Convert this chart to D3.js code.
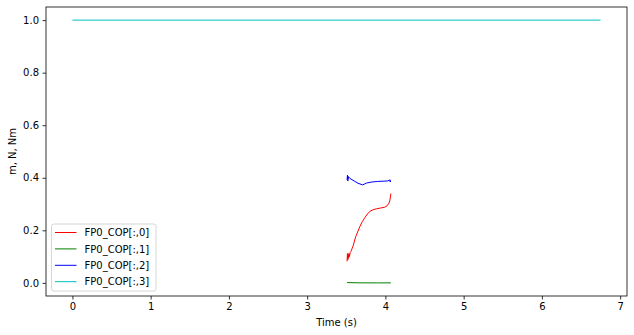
<!DOCTYPE html>
<html>
<head>
<meta charset="utf-8">
<script src="https://cdn.jsdelivr.net/npm/d3@7/dist/d3.min.js"></script>
<style>
  html, body { margin: 0; padding: 0; background: #fff; }
  svg { display: block; font-family: "DejaVu Sans", sans-serif; }
</style>
</head>
<body>
<svg id="chart" width="634" height="335"></svg>
<script>
// ---- data ----
const seriesNames = ["FP0_COP[:,0]", "FP0_COP[:,1]", "FP0_COP[:,2]", "FP0_COP[:,3]"];
const seriesColors = ["#ff0000", "#008000", "#0000ff", "#00bfbf"];

const cop0X = [3.51, 3.515, 3.52, 3.525, 3.53, 3.535, 3.54, 3.55, 3.56, 3.584, 3.62, 3.673, 3.705, 3.737, 3.77, 3.801, 3.84, 3.886, 3.94, 3.992, 4.02, 4.047, 4.058, 4.065, 4.07];
const cop0Y = [0.082, 0.112, 0.088, 0.108, 0.095, 0.112, 0.100, 0.115, 0.120, 0.138, 0.175, 0.214, 0.233, 0.248, 0.262, 0.272, 0.278, 0.282, 0.285, 0.288, 0.293, 0.304, 0.315, 0.330, 0.340];

const cop1X = [3.51, 3.70, 3.90, 4.07];
const cop1Y = [0.001, 0.000, 0.000, 0.000];

const cop2X = [3.51, 3.515, 3.52, 3.525, 3.53, 3.54, 3.56, 3.60, 3.65, 3.71, 3.76, 3.83, 3.90, 3.97, 4.03, 4.06, 4.062, 4.065];
const cop2Y = [0.392, 0.410, 0.388, 0.405, 0.398, 0.400, 0.395, 0.388, 0.379, 0.373, 0.380, 0.384, 0.386, 0.387, 0.388, 0.392, 0.384, 0.389];

const cop3X = [0, 6.75];
const cop3Y = [1.0, 1.0];

const xTicks = [0, 1, 2, 3, 4, 5, 6, 7];
const yTicks = [0.0, 0.2, 0.4, 0.6, 0.8, 1.0];
const xLabel = "Time (s)";
const yLabel = "m, N, Nm";

const seriesX = [cop0X, cop1X, cop2X, cop3X];
const seriesY = [cop0Y, cop1Y, cop2Y, cop3Y];

// ---- layout ----
const svg = d3.select("#chart");
const pL = 46, pR = 627, pT = 7, pB = 296;

const x = d3.scaleLinear().domain([-0.3375, 7.0875]).range([pL, pR]);
const y = d3.scaleLinear().domain([-0.05, 1.05]).range([pB, pT]);

svg.append("rect").attr("x", 0).attr("y", 0).attr("width", 634).attr("height", 335).attr("fill", "#fff");

// lines
const line = d3.line().x(d => x(d[0])).y(d => y(d[1]));
const plot = svg.append("g");
[0, 1, 2, 3].forEach(i => {
  const pts = seriesX[i].map((v, j) => [v, seriesY[i][j]]);
  plot.append("path")
    .attr("d", line(pts))
    .attr("fill", "none")
    .attr("stroke", seriesColors[i])
    .attr("stroke-width", 1)
    .attr("stroke-linejoin", "round");
});

// axes
const xAxis = d3.axisBottom(x).tickValues(xTicks).tickFormat(d3.format("d")).tickSizeOuter(0).tickSize(3.5).tickPadding(3.5);
const yAxis = d3.axisLeft(y).tickValues(yTicks).tickFormat(d3.format(".1f")).tickSizeOuter(0).tickSize(3.5).tickPadding(3.5);

const gx = svg.append("g").attr("transform", `translate(0,${pB})`).call(xAxis);
const gy = svg.append("g").attr("transform", `translate(${pL},0)`).call(yAxis);
[gx, gy].forEach(g => {
  g.select(".domain").remove();
  g.selectAll("text").attr("font-size", 10).attr("fill", "#000").attr("font-family", "DejaVu Sans");
  g.selectAll("line").attr("stroke", "#000").attr("stroke-width", 0.8);
});

// frame
svg.append("rect")
  .attr("x", pL).attr("y", pT)
  .attr("width", pR - pL).attr("height", pB - pT)
  .attr("fill", "none").attr("stroke", "#000").attr("stroke-width", 0.8);

// axis labels
svg.append("text").attr("x", (pL + pR) / 2).attr("y", 326)
  .attr("text-anchor", "middle").attr("font-size", 10).text(xLabel);
svg.append("text")
  .attr("transform", `translate(16,${(pT + pB) / 2}) rotate(-90)`)
  .attr("text-anchor", "middle").attr("font-size", 10).text(yLabel);

// legend
const lg = svg.append("g");
lg.append("rect").attr("x", 51.5).attr("y", 224).attr("width", 104.5).attr("height", 67)
  .attr("rx", 2.5).attr("fill", "#fff").attr("fill-opacity", 0.8)
  .attr("stroke", "#cccccc").attr("stroke-width", 0.8);
seriesNames.forEach((name, i) => {
  const yy = 232.5 + i * 16.4;
  lg.append("line").attr("x1", 55).attr("x2", 76.5).attr("y1", yy).attr("y2", yy)
    .attr("stroke", seriesColors[i]).attr("stroke-width", 1);
  lg.append("text").attr("x", 84.5).attr("y", yy + 3.6).attr("font-size", 10).text(name);
});
</script>
</body>
</html>
